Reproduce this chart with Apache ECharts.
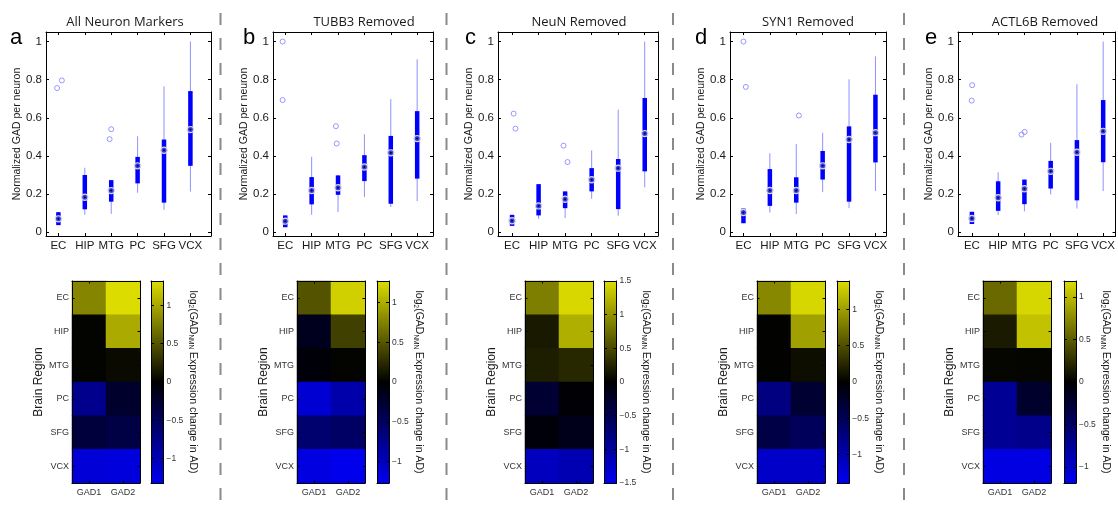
<!DOCTYPE html>
<html><head><meta charset="utf-8">
<script src="https://cdn.jsdelivr.net/npm/echarts@6/dist/echarts.min.js"></script>
<style>html,body{margin:0;padding:0;background:#fff}#c{width:1118px;height:506px}</style>
</head><body><div id="c"></div>
<script>
// ---------------- DATA ----------------
const regions = ['EC', 'HIP', 'MTG', 'PC', 'SFG', 'VCX'];
const genes = ['GAD1', 'GAD2'];
const panelTitles = ['All Neuron Markers', 'TUBB3 Removed', 'NeuN Removed', 'SYN1 Removed', 'ACTL6B Removed'];
const panelLetters = ['a', 'b', 'c', 'd', 'e'];
const boxTickValues = [0, 0.2, 0.4, 0.6, 0.8, 1];

// box stats per region: [min, q1, median, q3, max]
const boxA = [[0.037,0.037,0.070,0.105,0.105],[0.091,0.120,0.183,0.300,0.338],[0.096,0.160,0.218,0.273,0.273],[0.207,0.256,0.348,0.395,0.503],[0.117,0.155,0.430,0.486,0.765],[0.213,0.348,0.538,0.740,1.000]];
const boxB = [[0.026,0.026,0.058,0.088,0.088],[0.091,0.146,0.219,0.289,0.395],[0.105,0.196,0.233,0.298,0.298],[0.184,0.268,0.342,0.404,0.514],[0.132,0.149,0.416,0.505,0.698],[0.163,0.281,0.491,0.635,0.907]];
const boxC = [[0.033,0.033,0.060,0.091,0.091],[0.070,0.088,0.138,0.252,0.252],[0.074,0.126,0.173,0.214,0.214],[0.175,0.214,0.275,0.336,0.429],[0.086,0.121,0.336,0.384,0.643],[0.235,0.319,0.517,0.704,1.000]];
const boxD = [[0.047,0.047,0.103,0.124,0.124],[0.103,0.138,0.219,0.331,0.414],[0.095,0.155,0.219,0.288,0.462],[0.210,0.276,0.348,0.426,0.521],[0.126,0.160,0.486,0.555,0.802],[0.216,0.366,0.522,0.721,0.922]];
const boxE = [[0.043,0.043,0.072,0.107,0.107],[0.090,0.112,0.181,0.267,0.314],[0.109,0.147,0.228,0.276,0.276],[0.198,0.229,0.319,0.374,0.469],[0.124,0.167,0.419,0.483,0.776],[0.216,0.367,0.529,0.693,1.000]];

// outliers: [regionIndex, value, jitter]
const outA = [[0,0.756,-0.05],[0,0.796,0.13],[2,0.488,-0.06],[2,0.540,0.0]];
const outB = [[0,1.000,-0.1],[0,0.693,-0.1],[2,0.556,-0.08],[2,0.465,-0.05]];
const outC = [[0,0.622,0.06],[0,0.543,0.13],[2,0.454,-0.06],[2,0.368,0.09]];
const outD = [[0,1.000,0.0],[0,0.762,0.09],[2,0.612,0.1]];
const outE = [[0,0.771,0.01],[0,0.690,-0.01],[2,0.512,-0.11],[2,0.526,0.01]];

// heatmap log2 change per region: [GAD1, GAD2]
const heatA = [[0.80,1.32],[0.02,1.02],[0.02,0.06],[-0.77,-0.25],[-0.33,-0.38],[-1.18,-1.21]];
const heatB = [[0.48,1.20],[-0.16,0.37],[-0.05,0.02],[-1.11,-0.90],[-0.58,-0.53],[-1.19,-1.25]];
const heatC = [[0.86,1.47],[0.17,1.19],[0.20,0.27],[-0.31,-0.03],[-0.06,-0.16],[-1.19,-1.12]];
const heatD = [[0.85,1.36],[0.01,1.01],[0.01,0.09],[-0.75,-0.29],[-0.41,-0.52],[-1.16,-1.16]];
const heatE = [[0.57,1.16],[0.14,1.05],[0.03,0.02],[-0.74,-0.22],[-0.74,-0.69],[-1.12,-1.12]];

const colorRanges = [1.32, 1.27, 1.5, 1.39, 1.19];
const cbTicksStd = [-1, -0.5, 0, 0.5, 1];
const cbTicksC = [-1.5, -1, -0.5, 0, 0.5, 1, 1.5];

// ---------------- LAYOUT ----------------
const boxGrid = [[46,32,165,204],[273,32,160,204],[498,32,160,204],[730,32,156,204],[958,32,158,204]];
const boxXRange = [[0.53,6.78],[0.535,6.6],[0.47,6.5],[0.49,6.4],[0.47,6.47]];
const heatGrid = [[72,281,68,202],[297,281,68,202],[525,281,68,202],[757,281,68,202],[983,281,68,202]];
const cbGrid = [[151,281,12.5,202],[377,281,12,202],[604,281,12.5,202],[837,281,12.3,202],[1064,281,12,202]];
const titleX = [125, 364, 579, 808, 1045];
const letterX = [10, 243, 465, 695, 925];
const sepX = [220.5, 446.5, 673, 904];

const BLUE = '#0000f0', YEL = '#dcdc00';
const FONT = '"Liberation Sans", Arial, sans-serif';

const boxes = [boxA, boxB, boxC, boxD, boxE];
const outs = [outA, outB, outC, outD, outE];
const heats = [heatA, heatB, heatC, heatD, heatE];
const cbTicks = [cbTicksStd, cbTicksStd, cbTicksC, cbTicksStd, cbTicksStd];

const fmtNum = v => { const s = String(Math.round(v * 100) / 100); return s.replace('-', '\u2212'); };

function renderBox(params, api) {
  const x = api.value(0);
  const pMin = api.coord([x, api.value(1)]);
  const pQ1 = api.coord([x, api.value(2)]);
  const pMed = api.coord([x, api.value(3)]);
  const pQ3 = api.coord([x, api.value(4)]);
  const pMax = api.coord([x, api.value(5)]);
  return { type: 'group', children: [
    { type: 'line', shape: { x1: pMin[0], y1: pMin[1], x2: pMax[0], y2: pMax[1] }, style: { stroke: '#9090ff', lineWidth: 1 } },
    { type: 'line', shape: { x1: pQ1[0], y1: pQ1[1], x2: pQ3[0], y2: pQ3[1] }, style: { stroke: '#0000ff', lineWidth: 4.5 } },
    { type: 'circle', shape: { cx: pMed[0], cy: pMed[1], r: 3.1 }, style: { fill: '#3a3aff', stroke: '#d6d6d6', lineWidth: 1.2 } },
    { type: 'circle', shape: { cx: pMed[0], cy: pMed[1], r: 1 }, style: { fill: '#000' } }
  ]};
}
function renderBar(params, api) {
  const p0 = api.coord([0, api.value(1)]);
  const p1 = api.coord([1, api.value(2)]);
  return { type: 'rect', shape: { x: p0[0], y: p1[1], width: p1[0] - p0[0], height: p0[1] - p1[1] },
    style: { fill: { type: 'linear', x: 0, y: 0, x2: 0, y2: 1, colorStops: [
      { offset: 0, color: YEL }, { offset: 0.5, color: '#000' }, { offset: 1, color: BLUE }] } } };
}

const grid = [], xAxis = [], yAxis = [], series = [], visualMap = [], graphic = [];
const axLine = { show: true, onZero: false, lineStyle: { color: '#000', width: 1 } };
const lab = (size) => ({ fontFamily: FONT, fontSize: size, color: '#1a1a1a' });
const AZ = 10;

for (let p = 0; p < 5; p++) {
  const gb = grid.length;
  [boxGrid[p], heatGrid[p], cbGrid[p]].forEach(g => grid.push({ left: g[0], top: g[1], width: g[2], height: g[3] }));
  const xb = xAxis.length, yb = yAxis.length;
  const cats = [1, 2, 3, 4, 5, 6];
  // box axes
  xAxis.push({ type: 'value', gridIndex: gb, min: boxXRange[p][0], max: boxXRange[p][1], position: 'bottom', z: AZ,
    axisLine: axLine, splitLine: { show: false },
    axisTick: { show: true, inside: true, length: 3, customValues: cats, lineStyle: { color: '#000' } },
    axisLabel: Object.assign({ customValues: cats, margin: 4, formatter: v => regions[Math.round(v) - 1] }, lab(11.5)) });
  xAxis.push({ type: 'value', gridIndex: gb, min: boxXRange[p][0], max: boxXRange[p][1], position: 'top', z: AZ,
    axisLine: axLine, splitLine: { show: false }, axisLabel: { show: false },
    axisTick: { show: true, inside: true, length: 3, customValues: cats, lineStyle: { color: '#000' } } });
  yAxis.push({ type: 'value', gridIndex: gb, min: -0.02, max: 1.05, position: 'left', z: AZ,
    name: 'Normalized GAD per neuron', nameLocation: 'middle', nameGap: 21,
    nameTextStyle: { fontFamily: FONT, fontSize: 10.5, color: '#1a1a1a' },
    axisLine: axLine, splitLine: { show: false },
    axisTick: { show: true, inside: true, length: 3, customValues: boxTickValues, lineStyle: { color: '#000' } },
    axisLabel: Object.assign({ customValues: boxTickValues, margin: 4, formatter: fmtNum }, lab(11.5)) });
  yAxis.push({ type: 'value', gridIndex: gb, min: -0.02, max: 1.05, position: 'right', z: AZ,
    axisLine: axLine, splitLine: { show: false }, axisLabel: { show: false },
    axisTick: { show: true, inside: true, length: 3, customValues: boxTickValues, lineStyle: { color: '#000' } } });
  // heatmap axes
  const catTick = { show: true, inside: true, length: 2.5, alignWithLabel: true, lineStyle: { color: '#000' } };
  xAxis.push({ type: 'category', gridIndex: gb + 1, data: genes, position: 'bottom', axisLine: axLine, z: AZ,
    axisTick: catTick, axisLabel: Object.assign({ margin: 5 }, lab(9), { color: '#333' }) });
  xAxis.push({ type: 'category', gridIndex: gb + 1, data: genes, position: 'top', axisLine: axLine, z: AZ,
    axisTick: catTick, axisLabel: { show: false } });
  yAxis.push({ type: 'category', gridIndex: gb + 1, data: regions, inverse: true, position: 'left', axisLine: axLine, z: AZ,
    name: 'Brain Region', nameLocation: 'middle', nameGap: 24,
    nameTextStyle: { fontFamily: FONT, fontSize: 12, color: '#1a1a1a' },
    axisTick: catTick, axisLabel: Object.assign({ margin: 3 }, lab(9), { color: '#333' }) });
  yAxis.push({ type: 'category', gridIndex: gb + 1, data: regions, inverse: true, position: 'right', axisLine: axLine, z: AZ,
    axisTick: catTick, axisLabel: { show: false } });
  // colorbar axes
  const R = colorRanges[p];
  xAxis.push({ type: 'value', gridIndex: gb + 2, min: 0, max: 1, position: 'bottom', z: AZ,
    axisLine: axLine, axisTick: { show: false }, axisLabel: { show: false }, splitLine: { show: false } });
  yAxis.push({ type: 'value', gridIndex: gb + 2, min: -R, max: R, position: 'right', axisLine: axLine, z: AZ,
    splitLine: { show: false },
    name: 'log{sub|2}(GAD{sub|NMN} Expression change in AD)', nameLocation: 'middle', nameRotate: -90, nameGap: 19,
    nameTextStyle: { fontFamily: FONT, fontSize: 10.5, color: '#1a1a1a',
      rich: { sub: { fontFamily: FONT, fontSize: 6.5, color: '#1a1a1a', verticalAlign: 'bottom', padding: [5, 0, 0, 0] } } },
    axisTick: { show: true, inside: true, length: 3, customValues: cbTicks[p], lineStyle: { color: '#000' } },
    axisLabel: Object.assign({ customValues: cbTicks[p], margin: 3, formatter: fmtNum }, lab(8.5), { color: '#333' }) });
  yAxis.push({ type: 'value', gridIndex: gb + 2, min: -R, max: R, position: 'left', axisLine: axLine, z: AZ,
    splitLine: { show: false }, axisLabel: { show: false },
    axisTick: { show: true, inside: true, length: 3, customValues: cbTicks[p], lineStyle: { color: '#000' } } });
  xAxis.push({ type: 'value', gridIndex: gb + 2, min: 0, max: 1, position: 'top', z: AZ,
    axisLine: axLine, axisTick: { show: false }, axisLabel: { show: false }, splitLine: { show: false } });

  // series
  series.push({ type: 'custom', xAxisIndex: xb, yAxisIndex: yb, renderItem: renderBox, z: 3,
    encode: { x: 0, y: [1, 2, 3, 4, 5] },
    data: boxes[p].map((r, i) => [i + 1].concat(r)) });
  series.push({ type: 'scatter', xAxisIndex: xb, yAxisIndex: yb, symbol: 'circle', symbolSize: 5, z: 4,
    itemStyle: { color: 'rgba(0,0,0,0)', borderColor: '#8080ff', borderWidth: 1 },
    data: outs[p].map(o => [o[0] + 1 + o[2], o[1]]) });
  const hIdx = series.length;
  const hd = [];
  heats[p].forEach((row, ri) => row.forEach((v, gi) => hd.push([gi, ri, v])));
  series.push({ type: 'heatmap', xAxisIndex: xb + 2, yAxisIndex: yb + 2, data: hd, itemStyle: { borderWidth: 0 } });
  series.push({ type: 'custom', xAxisIndex: xb + 4, yAxisIndex: yb + 4, renderItem: renderBar,
    encode: { x: 0, y: [1, 2] }, data: [[0, -R, R]] });
  visualMap.push({ type: 'continuous', show: false, min: -R, max: R, seriesIndex: hIdx, dimension: 2,
    inRange: { color: [BLUE, '#000000', YEL] } });

  graphic.push({ type: 'text', x: titleX[p], y: 22, style: { text: panelTitles[p], font: '13px "Open Sans", sans-serif', fill: '#1a1a1a', align: 'center', verticalAlign: 'middle' } });
  graphic.push({ type: 'text', x: letterX[p], y: 37.5, style: { text: panelLetters[p], font: '22px ' + FONT, fill: '#000', align: 'left', verticalAlign: 'middle' } });
}
sepX.forEach(x => graphic.push({ type: 'line', shape: { x1: x, y1: 13, x2: x, y2: 506 },
  style: { stroke: '#8a8a8a', lineWidth: 2, lineDash: [12, 13] } }));

const chart = echarts.init(document.getElementById('c'), null, { renderer: 'canvas' });
chart.setOption({ animation: false, backgroundColor: '#fff', grid, xAxis, yAxis, series, visualMap, graphic });
</script></body></html>
